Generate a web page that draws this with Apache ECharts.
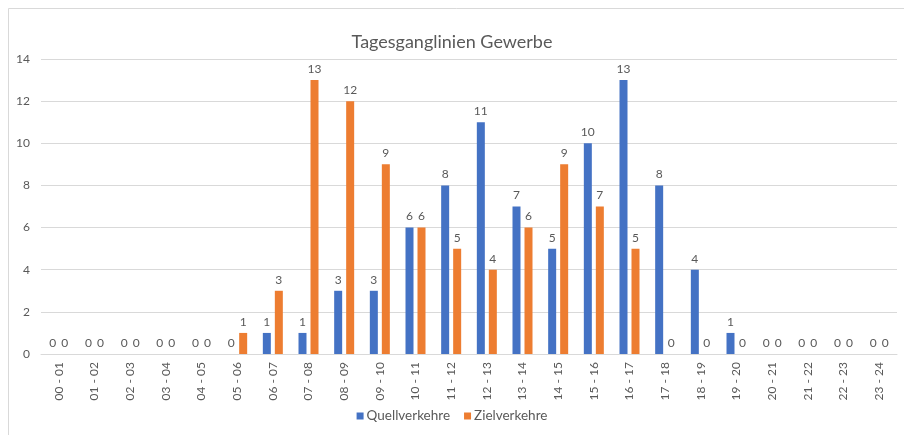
<!DOCTYPE html>
<html>
<head>
<meta charset="utf-8">
<script src="https://cdn.jsdelivr.net/npm/echarts@6/dist/echarts.min.js"></script>
<style>html,body{margin:0;padding:0;background:#fff;}#c{width:904px;height:435px;}</style>
</head>
<body>
<div id="c"></div>
<script>
const categories = ["00 - 01","01 - 02","02 - 03","03 - 04","04 - 05","05 - 06","06 - 07","07 - 08","08 - 09","09 - 10","10 - 11","11 - 12","12 - 13","13 - 14","14 - 15","15 - 16","16 - 17","17 - 18","18 - 19","19 - 20","20 - 21","21 - 22","22 - 23","23 - 24"];
const quellverkehre = [0,0,0,0,0,0,1,1,3,3,6,8,11,7,5,10,13,8,4,1,0,0,0,0];
const zielverkehre = [0,0,0,0,0,1,3,13,12,9,6,5,4,6,9,7,5,0,0,0,0,0,0,0];
const yTicks = [0,2,4,6,8,10,12,14];

const FONT = 'Lato, "Open Sans", sans-serif';
const TXT = '#595959';
const chart = echarts.init(document.getElementById('c'), null, {renderer:'canvas'});
const labelCfg = {show:true, position:'top', distance:5, color:TXT, fontSize:12, fontFamily:FONT};
chart.setOption({
  animation:false,
  backgroundColor:'#fff',
  graphic:[{type:'rect', shape:{x:8.5,y:8.5,width:1000,height:1000}, style:{fill:'none', stroke:'#d9d9d9', lineWidth:1}, silent:true}],
  title:{text:'Tagesganglinien Gewerbe', left:'center', top:28, textStyle:{color:TXT, fontSize:18, fontWeight:'normal', fontFamily:FONT}},
  legend:{bottom:7, left:'center', itemWidth:7, itemHeight:7, itemGap:14, icon:'rect', textStyle:{color:TXT, fontSize:13.5, fontFamily:FONT, padding:[0,0,0,-2]}},
  grid:{left:41, right:7, top:59, bottom:81, containLabel:false},
  xAxis:{type:'category', data:categories, axisLine:{lineStyle:{color:'#d9d9d9'}}, axisTick:{show:false},
    axisLabel:{rotate:90, color:TXT, fontSize:12, fontFamily:FONT, margin:8, interval:0}},
  yAxis:{type:'value', min:0, max:14, interval:2, axisLine:{show:false}, axisTick:{show:false},
    splitLine:{lineStyle:{color:'#d9d9d9'}},
    axisLabel:{color:TXT, fontSize:12, fontFamily:FONT, margin:11, formatter:v=>yTicks.includes(v)?String(v):''}},
  series:[
    {name:'Quellverkehre', type:'bar', data:quellverkehre, itemStyle:{color:'#4472c4'}, barWidth:8, barGap:'50%', label:labelCfg},
    {name:'Zielverkehre', type:'bar', data:zielverkehre, itemStyle:{color:'#ed7d31'}, barWidth:8, barGap:'50%', label:labelCfg}
  ]
});
</script>
</body>
</html>
